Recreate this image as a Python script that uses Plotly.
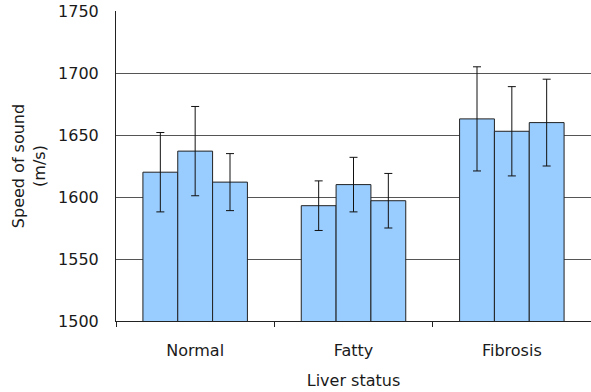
import plotly.graph_objects as go

categories = ["Normal", "Fatty", "Fibrosis"]
series1 = [1620, 1593, 1663]
series2 = [1637, 1610, 1653]
series3 = [1612, 1597, 1660]
err1 = [32, 20, 42]
err2 = [36, 22, 36]
err3 = [23, 22, 35]
y_ticks = [1500, 1550, 1600, 1650, 1700, 1750]

FONT = "DejaVu Sans"
fig = go.Figure()
for vals, errs in [(series1, err1), (series2, err2), (series3, err3)]:
    fig.add_trace(go.Bar(
        x=categories, y=vals,
        marker=dict(color="#99CCFF", line=dict(color="#222222", width=1)),
        error_y=dict(type="data", array=errs, visible=True, color="#111111", thickness=1, width=4),
        showlegend=False,
    ))

fig.update_layout(
    width=591, height=392,
    margin=dict(l=116, r=0, t=11, b=71),
    paper_bgcolor="white", plot_bgcolor="white",
    barmode="group", bargap=0.34, bargroupgap=0,
    font=dict(family=FONT, size=16, color="#1a1a1a"),
    xaxis=dict(
        automargin=False,
        showline=True, linecolor="#222222", linewidth=1,
        ticks="outside", tickson="boundaries", ticklen=5, tickcolor="#222222",
        showgrid=False,
        ticklabelstandoff=15,
        title=dict(text="Liver status", font=dict(size=16), standoff=15),
    ),
    yaxis=dict(
        automargin=False,
        range=[1500, 1750], tickvals=y_ticks,
        showline=True, linecolor="#222222", linewidth=1,
        showgrid=True, gridcolor="#555555", gridwidth=1,
        ticks="", zeroline=False,
        ticklabelstandoff=13,
        title=dict(text="Speed of sound<br>(m/s)", font=dict(size=16), standoff=8),
    ),
)
fig.write_html(
    "out.html",
    config={"displayModeBar": False},
    post_script="document.body.style.margin='0';document.body.style.overflow='hidden';",
)
